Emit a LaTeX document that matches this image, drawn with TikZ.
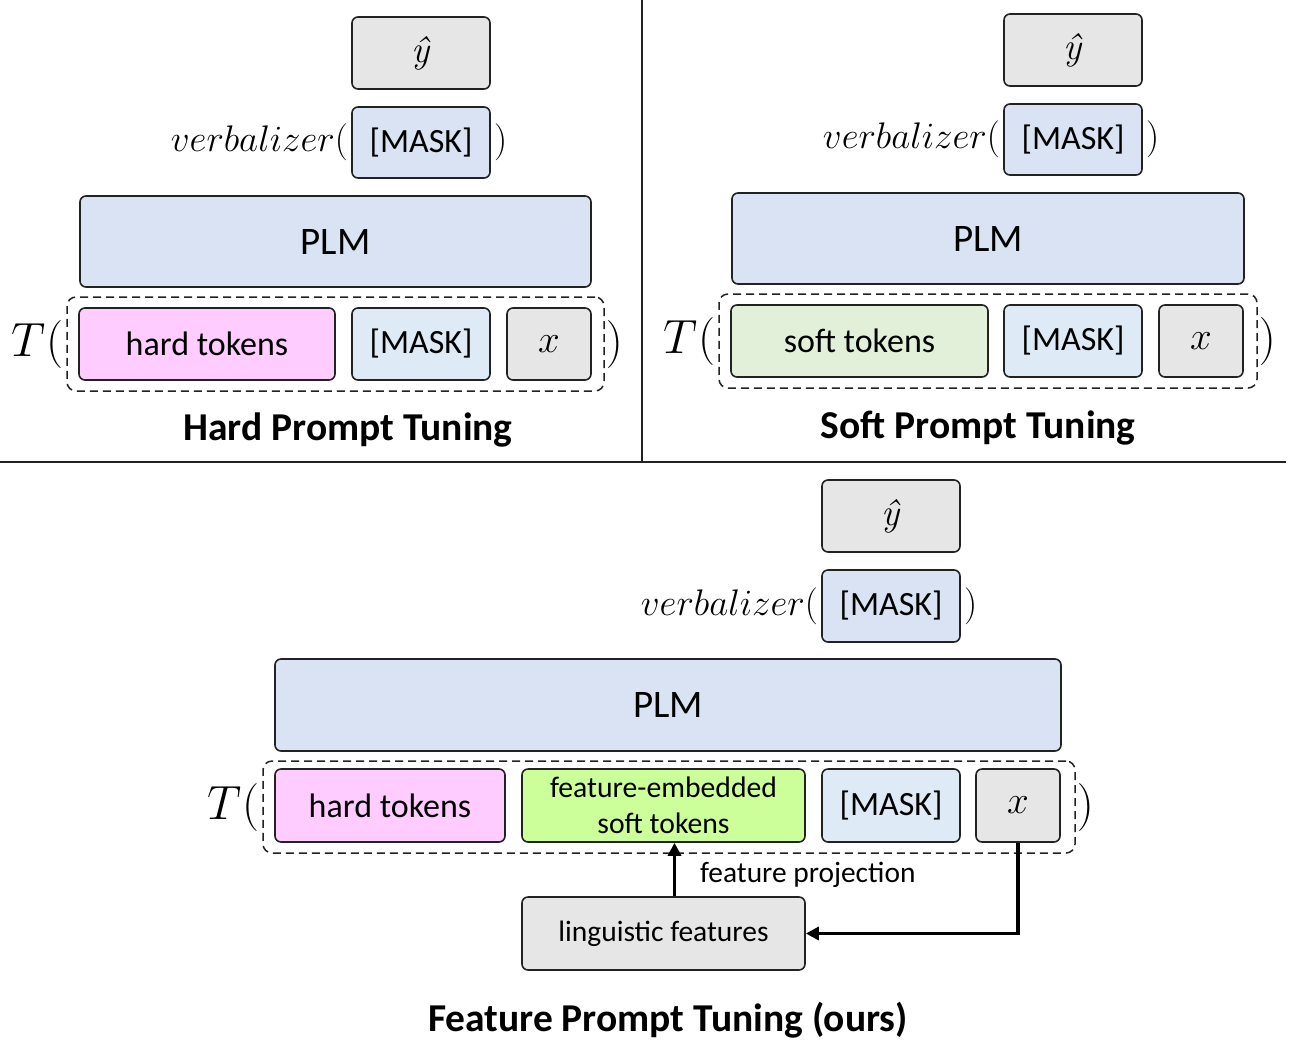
\RequirePackage{fix-cm}
\documentclass[tikz,border=0pt]{standalone}
\usepackage{fontspec}
\setmainfont{Carlito}
\newfontfamily\lmr{Latin Modern Roman}
\usetikzlibrary{arrows.meta,calc}
\definecolor{bgray}{HTML}{E6E6E6}
\definecolor{bblue}{HTML}{DAE3F3}
\definecolor{lblue}{HTML}{DEEBF7}
\definecolor{bpink}{HTML}{FFCCFF}
\definecolor{sgreen}{HTML}{E2F0D9}
\definecolor{fgreen}{HTML}{CCFF99}
\definecolor{edge}{HTML}{222222}
\newcommand{\fsz}[1]{\fontsize{#1}{#1}\selectfont}
\newcommand{\yhat}{{\lmr\itshape ŷ}}
\tikzset{
  bx/.style={draw=edge, line width=1.6pt, rounded corners=6pt, inner sep=0pt, align=center, font=\fsz{34}},
  dbox/.style={draw=edge, line width=1.5pt, dash pattern=on 8pt off 5pt, rounded corners=9pt, inner sep=0pt},
  mathtxt/.style={inner sep=0pt, font=\fsz{37}},
  ttxt/.style={inner sep=0pt, font=\fsz{48}},
  title/.style={inner sep=0pt, font=\bfseries\fsz{39.5}},
  arr/.style={draw=black, line width=3.4pt, -{Triangle[length=13pt,width=13pt]}},
  divider/.style={draw=edge, line width=2pt},
}
\begin{document}
\begin{tikzpicture}[x=1pt,y=-1pt]
\useasboundingbox (0,0) rectangle (1289,1047);
% dividers
\coordinate (vt) at (642,0);
\coordinate (vb) at (642,462);
\coordinate (hl) at (0,462);
\coordinate (hr) at (1286,462);
\draw[divider] (vt) -- (vb);
\draw[divider] (hl) -- (hr);

% ---------- Hard prompt tuning ----------
\node[bx, fill=bgray, minimum width=138pt, minimum height=72pt, font=\fsz{38}] (yh1) at (421,53) {\yhat};
\node[bx, fill=bblue, minimum width=138pt, minimum height=71pt] (vm1) at (421,142.5) {[MASK]};
\node[mathtxt, anchor=east] (vb1) at ([xshift=-3pt]vm1.west) {$verbalizer($};
\node[mathtxt, anchor=west] (vc1) at ([xshift=3pt]vm1.east) {$)$};
\node[bx, fill=bblue, minimum width=511pt, minimum height=91pt, font=\fsz{39}] (plm1) at (335.5,241.5) {PLM};
\node[dbox, minimum width=537pt, minimum height=94pt] (d1) at (335.5,344) {};
\node[bx, fill=bpink, minimum width=256pt, minimum height=72pt] (ht1) at (207,344) {hard tokens};
\node[bx, fill=lblue, minimum width=138pt, minimum height=72pt] (m1) at (421,344) {[MASK]};
\node[bx, fill=bgray, minimum width=84pt, minimum height=72pt, font=\fsz{39}] (x1) at (549,344) {$x$};
\node[ttxt, anchor=east] (T1) at ([xshift=-3pt]d1.west) {$T($};
\node[ttxt, anchor=west] (c1) at ([xshift=1pt]d1.east) {$)$};
\node[title] (t1) at (348,430) {Hard Prompt Tuning};

% ---------- Soft prompt tuning ----------
\node[bx, fill=bgray, minimum width=138pt, minimum height=72pt, font=\fsz{38}] (yh2) at (1073,50) {\yhat};
\node[bx, fill=bblue, minimum width=138pt, minimum height=71pt] (vm2) at (1073,139.5) {[MASK]};
\node[mathtxt, anchor=east] (vb2) at ([xshift=-3pt]vm2.west) {$verbalizer($};
\node[mathtxt, anchor=west] (vc2) at ([xshift=3pt]vm2.east) {$)$};
\node[bx, fill=bblue, minimum width=512pt, minimum height=91pt, font=\fsz{39}] (plm2) at (988,238.5) {PLM};
\node[dbox, minimum width=538pt, minimum height=94pt] (d2) at (988,341) {};
\node[bx, fill=sgreen, minimum width=257pt, minimum height=72pt] (st2) at (859.5,341) {soft tokens};
\node[bx, fill=lblue, minimum width=138pt, minimum height=72pt] (m2) at (1073,341) {[MASK]};
\node[bx, fill=bgray, minimum width=84pt, minimum height=72pt, font=\fsz{39}] (x2) at (1201,341) {$x$};
\node[ttxt, anchor=east] (T2) at ([xshift=-3pt]d2.west) {$T($};
\node[ttxt, anchor=west] (c2) at ([xshift=1pt]d2.east) {$)$};
\node[title] (t2) at (978,428) {Soft Prompt Tuning};

% ---------- Feature prompt tuning ----------
\node[bx, fill=bgray, minimum width=138pt, minimum height=72pt, font=\fsz{38}] (yh3) at (891,516) {\yhat};
\node[bx, fill=bblue, minimum width=138pt, minimum height=72pt] (vm3) at (891,606) {[MASK]};
\node[mathtxt, anchor=east] (vb3) at ([xshift=-3pt]vm3.west) {$verbalizer($};
\node[mathtxt, anchor=west] (vc3) at ([xshift=3pt]vm3.east) {$)$};
\node[bx, fill=bblue, minimum width=786pt, minimum height=92pt, font=\fsz{39}] (plm3) at (668,705) {PLM};
\node[dbox, minimum width=812pt, minimum height=92pt] (d3) at (669,807) {};
\node[bx, fill=bpink, minimum width=230pt, minimum height=73pt] (ht3) at (390,805.5) {hard tokens};
\node[bx, fill=fgreen, minimum width=283pt, minimum height=73pt, font=\fsz{29.7}] (fe3) at (663.5,805.5) {feature-embedded\\[6pt]soft tokens};
\node[bx, fill=lblue, minimum width=138pt, minimum height=73pt] (m3) at (891,805.5) {[MASK]};
\node[bx, fill=bgray, minimum width=84pt, minimum height=73pt, font=\fsz{39}] (x3) at (1018,805.5) {$x$};
\node[ttxt, anchor=east] (T3) at ([xshift=-3pt]d3.west) {$T($};
\node[ttxt, anchor=west] (c3) at ([xshift=1pt]d3.east) {$)$};
\node[bx, fill=bgray, minimum width=283pt, minimum height=73pt, font=\fsz{29.5}] (lf3) at (663.5,933.5) {linguistic features};
\draw[arr] ([xshift=11pt]lf3.north) -- ([xshift=11pt]fe3.south);
\node[inner sep=0pt, anchor=west, font=\fsz{29.4}] (fp) at (700,875) {feature projection};
\draw[arr] (x3.south) |- (lf3.east);
\node[title] (t3) at (668,1020) {Feature Prompt Tuning (ours)};
\end{tikzpicture}
\end{document}
